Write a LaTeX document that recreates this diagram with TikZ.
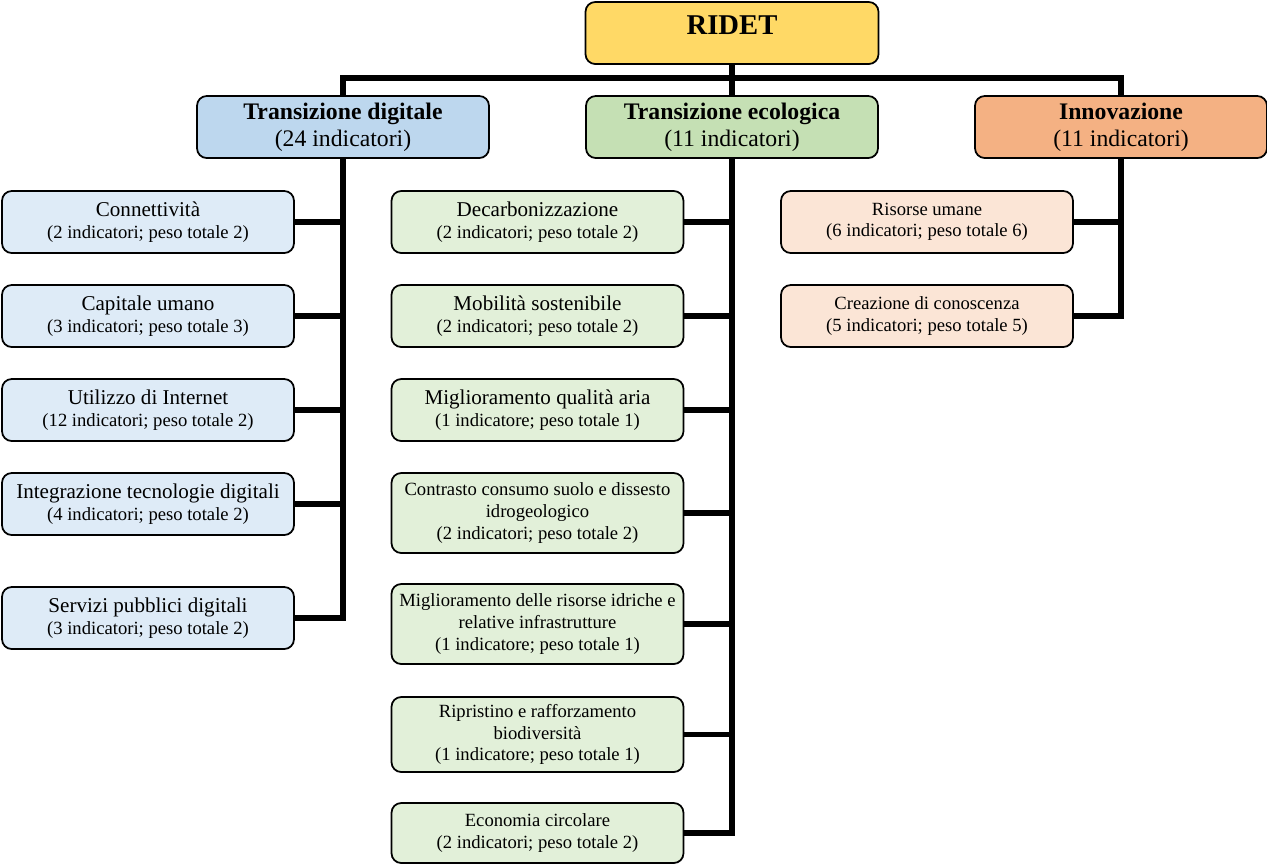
\documentclass[tikz,border=0pt]{standalone}
\usepackage{fontspec}
\setmainfont{Liberation Serif}
\usetikzlibrary{positioning}

\definecolor{rootyellow}{HTML}{FFD966}
\definecolor{digblue}{HTML}{BDD7EE}
\definecolor{ecogreen}{HTML}{C5E0B4}
\definecolor{innorange}{HTML}{F4B183}
\definecolor{digsub}{HTML}{DEEBF7}
\definecolor{ecosub}{HTML}{E2F0D9}
\definecolor{innsub}{HTML}{FBE5D6}

\newcommand{\subhead}[1]{{\fontsize{12}{14}\selectfont #1}}

\begin{document}
\begin{tikzpicture}[
    x=0.02cm,y=-0.02cm,
    box/.style={draw,line width=1pt,rounded corners=5.5pt,align=center,
        inner sep=1pt},
    root/.style={box,fill=rootyellow,minimum width=5.86cm,minimum height=1.24cm,
        font=\fontsize{16.3}{18}\selectfont\bfseries,
        text height=11.5pt,text depth=9.6pt},
    pillar/.style={box,minimum width=5.84cm,minimum height=1.24cm,
        font=\fontsize{13.5}{15.3}\selectfont},
    sub/.style={box,minimum width=5.84cm,minimum height=1.24cm,
        font=\fontsize{10.6}{12.3}\selectfont},
    link/.style={line width=2.9pt},
    ]
    \useasboundingbox (0,0) rectangle (1267,866);

    % Root
    \node[root] (ridet) at (732,33) {RIDET};

    % Pillars
    \node[pillar,fill=digblue] (dig) at (343,127)
        {\textbf{Transizione digitale}\\(24 indicatori)};
    \node[pillar,fill=ecogreen] (eco) at (732,127)
        {\textbf{Transizione ecologica}\\(11 indicatori)};
    \node[pillar,fill=innorange] (inn) at (1121,127)
        {\textbf{Innovazione}\\(11 indicatori)};

    % Transizione digitale
    \node[sub,fill=digsub] (d1) at (148,222)
        {\subhead{Connettività}\\(2 indicatori; peso totale 2)};
    \node[sub,fill=digsub] (d2) at (148,316)
        {\subhead{Capitale umano}\\(3 indicatori; peso totale 3)};
    \node[sub,fill=digsub] (d3) at (148,410)
        {\subhead{Utilizzo di Internet}\\(12 indicatori; peso totale 2)};
    \node[sub,fill=digsub] (d4) at (148,504)
        {\subhead{Integrazione tecnologie digitali}\\(4 indicatori; peso totale 2)};
    \node[sub,fill=digsub] (d5) at (148,618)
        {\subhead{Servizi pubblici digitali}\\(3 indicatori; peso totale 2)};

    % Transizione ecologica
    \node[sub,fill=ecosub] (e1) at (537.5,222)
        {\subhead{Decarbonizzazione}\\(2 indicatori; peso totale 2)};
    \node[sub,fill=ecosub] (e2) at (537.5,316)
        {\subhead{Mobilità sostenibile}\\(2 indicatori; peso totale 2)};
    \node[sub,fill=ecosub] (e3) at (537.5,410)
        {\subhead{Miglioramento qualità aria}\\(1 indicatore; peso totale 1)};
    \node[sub,fill=ecosub,minimum height=1.6cm] (e4) at (537.5,513)
        {Contrasto consumo suolo e dissesto\\idrogeologico\\(2 indicatori; peso totale 2)};
    \node[sub,fill=ecosub,minimum height=1.6cm] (e5) at (537.5,624)
        {Miglioramento delle risorse idriche e\\relative infrastrutture\\(1 indicatore; peso totale 1)};
    \node[sub,fill=ecosub,minimum height=1.5cm] (e6) at (537.5,734.5)
        {Ripristino e rafforzamento\\biodiversità\\(1 indicatore; peso totale 1)};
    \node[sub,fill=ecosub,minimum height=1.2cm] (e7) at (537.5,833)
        {Economia circolare\\(2 indicatori; peso totale 2)};

    % Innovazione
    \node[sub,fill=innsub] (i1) at (927,222)
        {Risorse umane\\(6 indicatori; peso totale 6)};
    \node[sub,fill=innsub] (i2) at (927,316)
        {Creazione di conoscenza\\(5 indicatori; peso totale 5)};

    % Connectors
    \coordinate (bus) at (0,78);
    \draw[link] (ridet.south) -- (eco.north);
    \draw[link] (dig.north) -- (dig.north |- bus) -| (inn.north);

    \draw[link] (dig.south) -- (dig.south |- d5.east) -- (d5.east);
    \foreach \n in {d1,d2,d3,d4}
        \draw[link] (\n.east) -- (\n.east -| dig.south);

    \draw[link] (eco.south) -- (eco.south |- e7.east) -- (e7.east);
    \foreach \n in {e1,e2,e3,e4,e5,e6}
        \draw[link] (\n.east) -- (\n.east -| eco.south);

    \draw[link] (inn.south) -- (inn.south |- i2.east) -- (i2.east);
    \draw[link] (i1.east) -- (i1.east -| inn.south);
\end{tikzpicture}
\end{document}
